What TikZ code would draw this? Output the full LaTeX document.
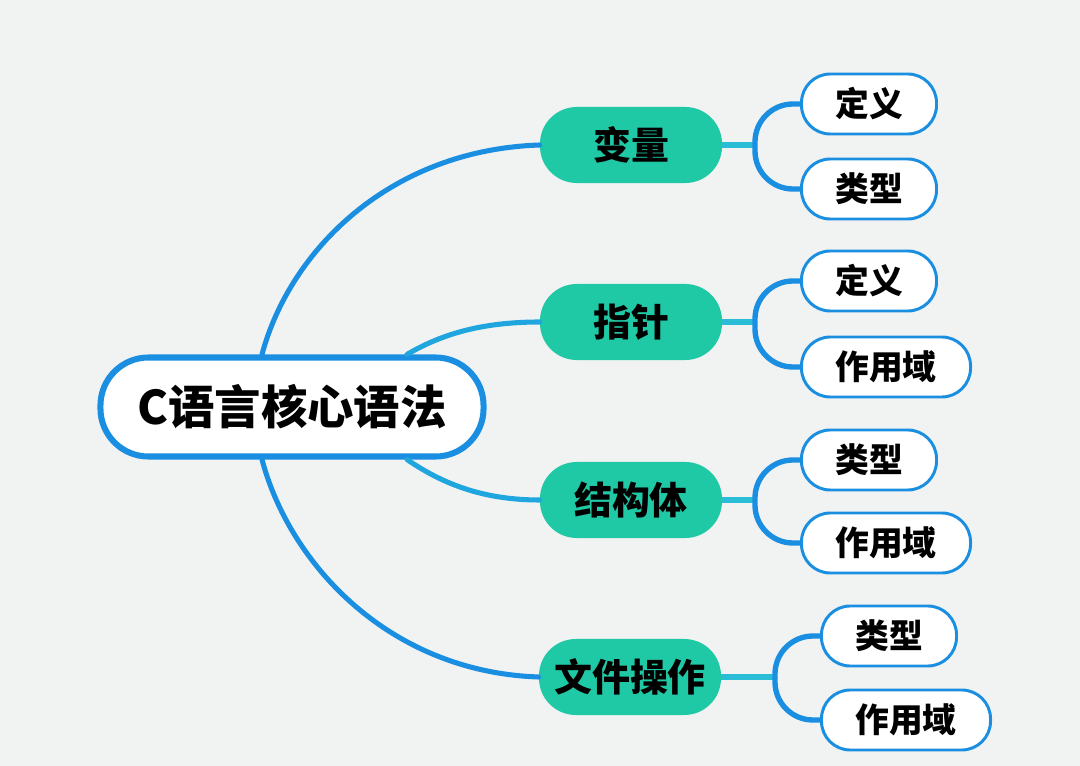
\documentclass[tikz,border=0pt]{standalone}
\usepackage{fontspec}
\setmainfont{Noto Sans CJK SC}
\usetikzlibrary{calc}
\definecolor{bgcol}{HTML}{F1F2F2}
\definecolor{rootblue}{HTML}{1A8FE2}
\definecolor{midblue}{HTML}{1FA6DF}
\definecolor{tealfill}{HTML}{20C9A6}
\definecolor{tealline}{HTML}{2ABED6}
\begin{document}
\begin{tikzpicture}[x=0.025cm,y=-0.025cm,
    rootbox/.style={draw=rootblue,line width=4.3pt,fill=white,rounded corners=1.2cm,
        minimum width=9.575cm,minimum height=2.475cm,inner sep=0pt,
        font=\fontsize{33}{36}\selectfont\bfseries},
    branchbox/.style={fill=tealfill,rounded corners=0.92cm,minimum width=4.55cm,
        minimum height=1.9cm,inner sep=0pt,font=\fontsize{27}{30}\selectfont\bfseries},
    leafbox/.style={draw=rootblue,line width=2.1pt,fill=white,rounded corners=0.72cm,
        minimum width=3.375cm,minimum height=1.5cm,inner sep=0pt,anchor=west,
        font=\fontsize{24}{27}\selectfont\bfseries},
    wideleaf/.style={leafbox,minimum width=4.225cm},
    trunk/.style={line width=3.6pt,line cap=round},
    twig/.style={draw=tealline,line width=3.6pt},
    fork/.style={draw=rootblue,line width=3.8pt,rounded corners=0.95cm}]
    \fill[bgcol] (0,0) rectangle (1080,766);
    \useasboundingbox (0,0) rectangle (1080,766);

    \node[rootbox] (root) at (292,407) {C语言核心语法};

    \node[branchbox] (var) at (631,145) {变量};
    \node[branchbox] (ptr) at (631,322) {指针};
    \node[branchbox] (struct) at (631,500) {结构体};
    \node[branchbox] (file) at (630,677) {文件操作};

    \node[leafbox] (vardef) at (800,104) {定义};
    \node[leafbox] (vartype) at (800,189) {类型};
    \node[leafbox] (ptrdef) at (800,281) {定义};
    \node[wideleaf] (ptrscope) at (800,367) {作用域};
    \node[leafbox] (sttype) at (800,460) {类型};
    \node[wideleaf] (stscope) at (800,543) {作用域};
    \node[leafbox] (ftype) at (820,636) {类型};
    \node[wideleaf] (fscope) at (820,720) {作用域};

    \coordinate (jvar) at (755,145);
    \coordinate (jptr) at (755,322);
    \coordinate (jst) at (755,500);
    \coordinate (jfile) at (775,677);

    \draw[trunk,rootblue] ($(root.north)+(-30,0)$) .. controls (290,250) and (390,150) .. (var.west);
    \draw[trunk,midblue] ($(root.north)+(115,0)$) .. controls (440,335) and (480,322) .. (ptr.west);
    \draw[trunk,midblue] ($(root.south)+(115,0)$) .. controls (440,482) and (480,500) .. (struct.west);
    \draw[trunk,rootblue] ($(root.south)+(-30,0)$) .. controls (290,565) and (390,672) .. (file.west);

    \draw[twig] (var.east) -- (jvar);
    \draw[twig] (ptr.east) -- (jptr);
    \draw[twig] (struct.east) -- (jst);
    \draw[twig] (file.east) -- (jfile);

    \draw[fork] (vardef.west) -| (jvar |- vartype.west) -- (vartype.west);
    \draw[fork] (ptrdef.west) -| (jptr |- ptrscope.west) -- (ptrscope.west);
    \draw[fork] (sttype.west) -| (jst |- stscope.west) -- (stscope.west);
    \draw[fork] (ftype.west) -| (jfile |- fscope.west) -- (fscope.west);
\end{tikzpicture}
\end{document}
